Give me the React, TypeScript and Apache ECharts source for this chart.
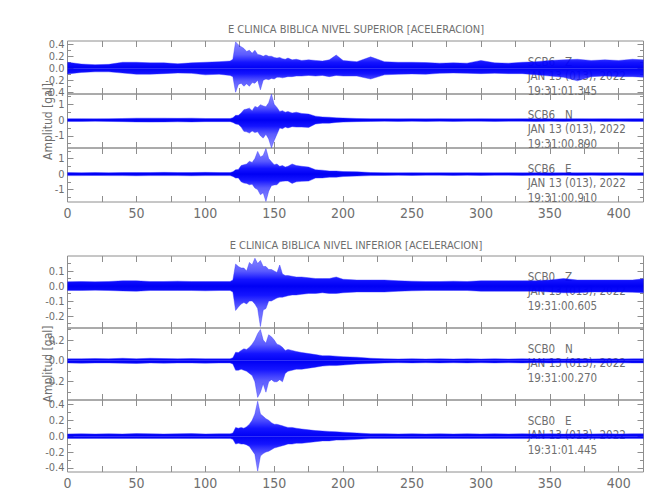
import React, { useEffect, useRef } from "react";
import * as echarts from "echarts";

// ---------- data ----------
// time grid in seconds
const TIME_S = [0,10,20,30,40,50,60,70,80,90,100,110,118,
  120,122,124,126,128,130,132,134,136,138,140,142,144,146,148,150,152,154,156,158,160,
  163,166,170,175,180,185,190,195,200,
  210,220,230,240,250,260,270,280,290,300,310,320,330,340,350,360,370,380,390,400,410,418];

// envelope (upper / lower peak amplitude, gal) of each trace
const scb6Z_hi = [0.10,0.07,0.06,0.065,0.10,0.10,0.09,0.09,0.075,0.09,0.10,0.11,0.12,
  0.15,0.44,0.39,0.36,0.33,0.28,0.30,0.25,0.30,0.23,0.22,0.20,0.22,0.20,0.20,0.18,0.17,0.18,0.16,0.15,0.17,
  0.14,0.15,0.13,0.14,0.13,0.12,0.14,0.22,0.13,
  0.11,0.19,0.11,0.10,0.10,0.095,0.085,0.09,0.085,0.13,0.09,0.085,0.10,0.11,0.13,0.14,0.15,0.13,0.14,0.13,0.15,
  0.14];
const scb6Z_lo = [-0.095,-0.07,-0.06,-0.06,-0.08,-0.10,-0.10,-0.09,-0.08,-0.085,-0.11,-0.10,-0.12,
  -0.14,-0.40,-0.27,-0.25,-0.30,-0.26,-0.30,-0.24,-0.25,-0.20,-0.36,-0.20,-0.18,-0.19,-0.17,-0.18,-0.15,-0.15,-0.16,-0.15,-0.14,
  -0.14,-0.13,-0.13,-0.12,-0.13,-0.12,-0.14,-0.12,-0.13,
  -0.13,-0.18,-0.11,-0.10,-0.095,-0.10,-0.085,-0.08,-0.085,-0.09,-0.085,-0.09,-0.09,-0.11,-0.13,-0.15,-0.21,-0.14,-0.13,-0.14,-0.14,
  -0.15];

const scb6N_hi = [0.09,0.09,0.08,0.09,0.10,0.12,0.12,0.12,0.11,0.12,0.10,0.10,0.10,
  0.15,0.30,0.30,0.45,0.66,0.70,0.76,0.60,0.87,0.80,0.98,0.90,0.85,1.10,1.65,1.00,0.80,0.55,0.60,0.50,0.55,
  0.45,0.50,0.42,0.38,0.25,0.20,0.18,0.14,0.13,
  0.10,0.09,0.09,0.08,0.09,0.08,0.09,0.08,0.08,0.09,0.08,0.08,0.09,0.08,0.09,0.08,0.09,0.08,0.09,0.08,0.09,
  0.09];
const scb6N_lo = [-0.09,-0.09,-0.08,-0.09,-0.10,-0.12,-0.13,-0.12,-0.11,-0.12,-0.10,-0.10,-0.10,
  -0.15,-0.25,-0.28,-0.45,-0.72,-0.75,-0.83,-0.70,-0.80,-0.75,-1.00,-1.15,-0.90,-1.20,-1.77,-1.30,-0.90,-0.50,-0.55,-0.45,-0.50,
  -0.42,-0.45,-0.45,-0.47,-0.25,-0.20,-0.20,-0.15,-0.13,
  -0.10,-0.09,-0.08,-0.09,-0.08,-0.09,-0.08,-0.09,-0.08,-0.08,-0.09,-0.08,-0.08,-0.09,-0.08,-0.09,-0.08,-0.08,-0.09,-0.08,-0.09,
  -0.09];

const scb6E_hi = [0.10,0.09,0.10,0.09,0.10,0.10,0.10,0.11,0.10,0.10,0.11,0.10,0.10,
  0.15,0.28,0.30,0.55,0.60,0.65,0.82,0.75,1.00,1.46,1.10,1.20,1.64,1.00,0.80,0.60,0.65,0.50,0.55,0.45,0.50,
  0.65,0.55,0.50,0.45,0.28,0.25,0.20,0.20,0.16,
  0.15,0.10,0.09,0.08,0.09,0.08,0.09,0.08,0.09,0.08,0.08,0.09,0.08,0.09,0.08,0.09,0.08,0.09,0.08,0.09,0.08,
  0.09];
const scb6E_lo = [-0.10,-0.10,-0.09,-0.10,-0.10,-0.11,-0.10,-0.10,-0.10,-0.11,-0.10,-0.10,-0.10,
  -0.15,-0.26,-0.25,-0.50,-0.58,-0.60,-0.69,-0.65,-0.90,-1.00,-1.33,-1.20,-1.76,-1.10,-0.75,-0.70,-0.69,-0.50,-0.47,-0.45,-0.45,
  -0.60,-0.50,-0.47,-0.45,-0.26,-0.25,-0.20,-0.20,-0.16,
  -0.13,-0.10,-0.09,-0.08,-0.09,-0.08,-0.08,-0.09,-0.08,-0.09,-0.08,-0.08,-0.09,-0.08,-0.09,-0.08,-0.09,-0.08,-0.09,-0.08,-0.09,
  -0.09];

const scb0Z_hi = [0.028,0.03,0.028,0.03,0.035,0.035,0.03,0.03,0.032,0.03,0.03,0.03,0.03,
  0.04,0.146,0.13,0.12,0.12,0.10,0.157,0.14,0.185,0.15,0.17,0.13,0.13,0.11,0.11,0.10,0.09,0.14,0.08,0.07,0.07,
  0.065,0.06,0.06,0.055,0.05,0.05,0.05,0.06,0.045,
  0.04,0.04,0.04,0.035,0.032,0.03,0.03,0.032,0.03,0.035,0.035,0.035,0.035,0.035,0.04,0.05,0.04,0.04,0.04,0.04,0.04,
  0.048];
const scb0Z_lo = [-0.03,-0.03,-0.028,-0.03,-0.033,-0.035,-0.03,-0.03,-0.03,-0.03,-0.032,-0.03,-0.03,
  -0.04,-0.163,-0.14,-0.12,-0.11,-0.12,-0.10,-0.10,-0.12,-0.15,-0.27,-0.16,-0.15,-0.10,-0.10,-0.09,-0.08,-0.075,-0.075,-0.07,-0.065,
  -0.06,-0.06,-0.055,-0.05,-0.05,-0.045,-0.05,-0.05,-0.045,
  -0.04,-0.04,-0.04,-0.035,-0.032,-0.03,-0.03,-0.03,-0.03,-0.035,-0.035,-0.035,-0.035,-0.035,-0.04,-0.045,-0.045,-0.04,-0.04,-0.04,-0.042,
  -0.045];

const scb0N_hi = [0.02,0.02,0.022,0.02,0.025,0.02,0.025,0.022,0.02,0.022,0.02,0.02,0.02,
  0.03,0.083,0.08,0.10,0.115,0.11,0.13,0.16,0.20,0.26,0.30,0.20,0.17,0.25,0.23,0.20,0.16,0.15,0.13,0.10,0.11,
  0.10,0.09,0.08,0.07,0.06,0.05,0.05,0.045,0.04,
  0.035,0.025,0.02,0.018,0.02,0.018,0.02,0.018,0.02,0.018,0.02,0.018,0.02,0.018,0.02,0.018,0.02,0.018,0.02,0.018,0.02,
  0.02];
const scb0N_lo = [-0.02,-0.022,-0.02,-0.02,-0.022,-0.025,-0.02,-0.022,-0.02,-0.02,-0.022,-0.02,-0.02,
  -0.03,-0.09,-0.09,-0.08,-0.09,-0.10,-0.12,-0.14,-0.20,-0.35,-0.30,-0.22,-0.30,-0.20,-0.18,-0.20,-0.20,-0.18,-0.20,-0.12,-0.10,
  -0.09,-0.08,-0.08,-0.07,-0.06,-0.05,-0.045,-0.045,-0.04,
  -0.03,-0.025,-0.02,-0.018,-0.02,-0.018,-0.02,-0.018,-0.02,-0.018,-0.02,-0.018,-0.02,-0.018,-0.02,-0.018,-0.02,-0.018,-0.02,-0.018,-0.02,
  -0.02];

const scb0E_hi = [0.028,0.03,0.028,0.03,0.028,0.032,0.03,0.028,0.03,0.032,0.028,0.03,0.03,
  0.04,0.11,0.10,0.11,0.10,0.12,0.15,0.20,0.28,0.44,0.28,0.25,0.22,0.20,0.17,0.15,0.15,0.14,0.13,0.12,0.11,
  0.11,0.10,0.09,0.08,0.07,0.065,0.06,0.055,0.05,
  0.04,0.03,0.03,0.028,0.03,0.028,0.03,0.028,0.03,0.028,0.03,0.028,0.03,0.028,0.03,0.028,0.03,0.028,0.03,0.028,0.03,
  0.03];
const scb0E_lo = [-0.028,-0.03,-0.028,-0.03,-0.03,-0.028,-0.03,-0.03,-0.028,-0.03,-0.03,-0.028,-0.03,
  -0.04,-0.10,-0.09,-0.10,-0.10,-0.11,-0.13,-0.18,-0.23,-0.44,-0.25,-0.22,-0.20,-0.19,-0.17,-0.15,-0.14,-0.13,-0.12,-0.11,-0.10,
  -0.10,-0.09,-0.09,-0.08,-0.07,-0.06,-0.06,-0.05,-0.05,
  -0.04,-0.03,-0.03,-0.028,-0.03,-0.028,-0.03,-0.028,-0.03,-0.028,-0.03,-0.028,-0.03,-0.028,-0.03,-0.028,-0.03,-0.028,-0.03,-0.028,-0.03,
  -0.03];

// axis ranges & ticks
const X_MAX = 418;
const X_LABELS = [0, 50, 100, 150, 200, 250, 300, 350, 400];
const X_TICKS = [0,25,50,75,100,125,150,175,200,225,250,275,300,325,350,375,400];

const Y_RANGE_SUP = [[-0.43, 0.455], [-1.78, 1.66], [-1.8, 1.68]];
const Y_RANGE_INF = [[-0.28, 0.2], [-0.375, 0.315], [-0.452, 0.456]];
const Y_LABELS_SUP = [[-0.4, -0.2, 0, 0.2, 0.4], [-1, 0, 1], [-1, 0, 1]];
const Y_LABELS_INF = [[-0.2, -0.1, 0, 0.1], [-0.2, 0, 0.2], [-0.4, -0.2, 0, 0.2, 0.4]];
const Y_MINOR_SUP = [[-0.3, -0.1, 0.1, 0.3], [-1.5, -0.5, 0.5, 1.5], [-1.5, -0.5, 0.5, 1.5]];
const Y_MINOR_INF = [[-0.25, -0.15, -0.05, 0.05, 0.15], [-0.3, -0.1, 0.1, 0.3], [-0.3, -0.1, 0.1, 0.3]];
const Y_DECIMALS_SUP = [1, 0, 0];
const Y_DECIMALS_INF = [1, 1, 1];

const STATIONS = ["SCB6   Z", "SCB6   N", "SCB6   E", "SCB0   Z", "SCB0   N", "SCB0   E"];
const DATE_LINE = "JAN 13 (013), 2022";
const START_TIMES = ["19:31:01.345", "19:31:00.890", "19:31:00.910", "19:31:00.605", "19:31:00.270", "19:31:01.445"];
const TITLES = [
  "E CLINICA BIBLICA NIVEL SUPERIOR [ACELERACION]",
  "E CLINICA BIBLICA NIVEL INFERIOR [ACELERACION]",
];
const Y_TITLE = "Amplitud [gal]";

const TRACES = [
  [scb6Z_hi, scb6Z_lo], [scb6N_hi, scb6N_lo], [scb6E_hi, scb6E_lo],
  [scb0Z_hi, scb0Z_lo], [scb0N_hi, scb0N_lo], [scb0E_hi, scb0E_lo],
];

// ---------- layout ----------
const FONT = "'DejaVu Sans Condensed', 'Liberation Sans Narrow', 'Liberation Sans', sans-serif";
const TEXT_COLOR = "#6e6e6e";
const AXIS_COLOR = "#8e8e8e";
const PANEL_TOPS = [41, 94, 148, 256, 328, 400];
const PANEL_HEIGHTS = [53, 54, 54, 72, 72, 72];
const GRID_LEFT = 67.5;
const GRID_RIGHT = 6.5;

// band shading: dense (dark) near the zero line, lighter towards the panel edge
function bandGradient(top: number, height: number, ymin: number, ymax: number) {
  const f0 = ymax / (ymax - ymin); // zero line position (fraction from top)
  const up = (d: number) => f0 * (1 - d);
  const dn = (d: number) => f0 + (1 - f0) * d;
  const stops = [
    { offset: up(1), color: "rgba(30,30,255,0.5)" },
    { offset: up(0.5), color: "rgba(20,20,255,0.7)" },
    { offset: up(0.22), color: "rgba(0,0,255,0.92)" },
    { offset: f0, color: "rgba(0,0,245,1)" },
    { offset: dn(0.22), color: "rgba(0,0,255,0.92)" },
    { offset: dn(0.5), color: "rgba(20,20,255,0.7)" },
    { offset: dn(1), color: "rgba(30,30,255,0.5)" },
  ];
  return new echarts.graphic.LinearGradient(0, top, 0, top + height, stops, true);
}

export default function App() {
  const ref = useRef<HTMLDivElement>(null);

  useEffect(() => {
    if (!ref.current) return;
    const chart = echarts.init(ref.current, null, { renderer: "svg" });

    const ranges = [...Y_RANGE_SUP, ...Y_RANGE_INF];
    const labels = [...Y_LABELS_SUP, ...Y_LABELS_INF];
    const minors = [...Y_MINOR_SUP, ...Y_MINOR_INF];
    const decimals = [...Y_DECIMALS_SUP, ...Y_DECIMALS_INF];

    const grid: any[] = [];
    const xAxis: any[] = [];
    const yAxis: any[] = [];
    const series: any[] = [];
    const graphic: any[] = [];

    for (let i = 0; i < 6; i++) {
      grid.push({
        left: GRID_LEFT, right: GRID_RIGHT, top: PANEL_TOPS[i], height: PANEL_HEIGHTS[i],
        show: true, borderColor: AXIS_COLOR, borderWidth: 1, backgroundColor: "transparent",
      });
      for (const pos of ["bottom", "top"]) {
        xAxis.push({
          gridIndex: i, type: "value", min: 0, max: X_MAX, position: pos,
          axisLine: { show: false, onZero: false }, splitLine: { show: false },
          axisTick: { show: true, inside: true, length: 6, customValues: X_TICKS, lineStyle: { color: AXIS_COLOR } },
          axisLabel: {
            show: pos === "bottom" && (i === 2 || i === 5), customValues: X_LABELS,
            color: TEXT_COLOR, fontSize: 14, fontFamily: FONT, margin: 4,
          },
        });
      }
      const [ymin, ymax] = ranges[i];
      for (const pos of ["left", "right"]) {
        yAxis.push({
          gridIndex: i, type: "value", min: ymin, max: ymax, position: pos,
          axisLine: { show: false, onZero: false }, splitLine: { show: false },
          axisTick: { show: true, inside: true, length: 6, customValues: labels[i], lineStyle: { color: AXIS_COLOR } },
          axisLabel: {
            show: pos === "left", customValues: labels[i], color: TEXT_COLOR, fontSize: 11, fontFamily: FONT, margin: 3,
            formatter: (v: number) => v.toFixed(decimals[i]),
          },
        });
        yAxis.push({
          gridIndex: i, type: "value", min: ymin, max: ymax, position: pos,
          axisLine: { show: false, onZero: false }, splitLine: { show: false },
          axisTick: { show: true, inside: true, length: 3.5, customValues: minors[i], lineStyle: { color: AXIS_COLOR } },
          axisLabel: { show: false },
        });
      }
      // upper and lower envelope, each filled towards zero, together form the trace band
      const [hi, lo] = TRACES[i];
      const fill = bandGradient(PANEL_TOPS[i], PANEL_HEIGHTS[i], ymin, ymax);
      [hi, lo].forEach((env) => {
        series.push({
          type: "line", xAxisIndex: 2 * i, yAxisIndex: 4 * i,
          data: TIME_S.map((t, k) => [t, env[k]]), symbol: "none",
          lineStyle: { color: "rgba(50,50,255,0.6)", width: 0.7 },
          areaStyle: { origin: "auto", color: fill, opacity: 1 },
          silent: true, z: 3,
        });
      });
      const top = PANEL_TOPS[i];
      [STATIONS[i], DATE_LINE, START_TIMES[i]].forEach((txt, j) => {
        graphic.push({
          type: "text", x: 527.7, y: top + 20.5 + j * 14.7, z: 1,
          style: { text: txt, fill: TEXT_COLOR, font: `11.5px ${FONT}`, verticalAlign: "middle", align: "left" },
        });
      });
    }

    graphic.push({
      type: "text", x: 356, y: 29.5, z: 1,
      style: { text: TITLES[0], fill: TEXT_COLOR, font: `11px ${FONT}`, align: "center", verticalAlign: "middle" },
    });
    graphic.push({
      type: "text", x: 356, y: 245.5, z: 1,
      style: { text: TITLES[1], fill: TEXT_COLOR, font: `11px ${FONT}`, align: "center", verticalAlign: "middle" },
    });
    graphic.push({
      type: "text", x: 48, y: 121.5, rotation: Math.PI / 2, z: 1,
      style: { text: Y_TITLE, fill: TEXT_COLOR, font: `12px ${FONT}`, align: "center", verticalAlign: "middle" },
    });
    graphic.push({
      type: "text", x: 48, y: 364, rotation: Math.PI / 2, z: 1,
      style: { text: Y_TITLE, fill: TEXT_COLOR, font: `12px ${FONT}`, align: "center", verticalAlign: "middle" },
    });

    chart.setOption({
      animation: false,
      backgroundColor: "#ffffff",
      grid, xAxis, yAxis, series, graphic,
    });
    return () => chart.dispose();
  }, []);

  return (
    <div
      ref={ref}
      style={{ position: "fixed", left: 0, top: 0, width: 650, height: 500, background: "#fff" }}
    />
  );
}
